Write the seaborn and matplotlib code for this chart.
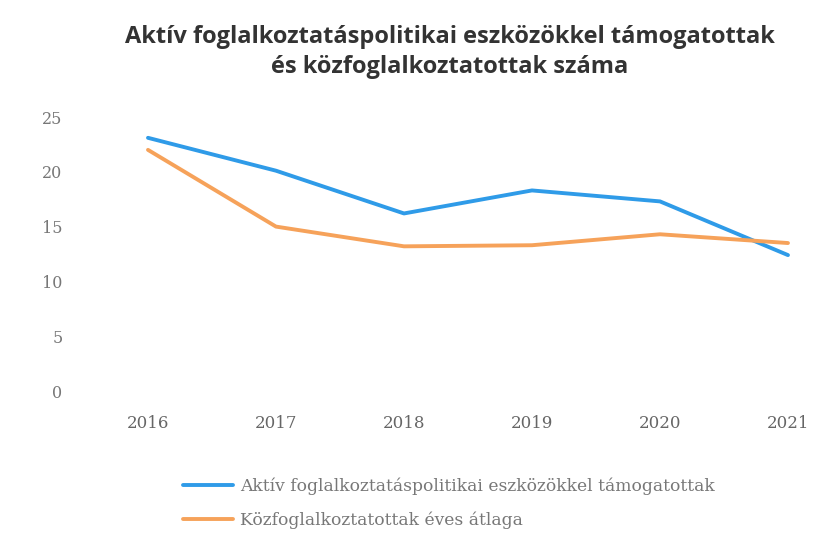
import matplotlib
matplotlib.use("Agg")
import matplotlib.pyplot as plt
import seaborn as sns
import pandas as pd
from matplotlib.lines import Line2D

years = ["2016", "2017", "2018", "2019", "2020", "2021"]
aktiv = [23.1, 20.1, 16.2, 18.3, 17.3, 12.4]
kozfog = [22.0, 15.0, 13.2, 13.3, 14.3, 13.5]
series_names = ["Aktív foglalkoztatáspolitikai eszközökkel támogatottak",
                "Közfoglalkoztatottak éves átlaga"]
yticks = [0, 5, 10, 15, 20, 25]
title = "Aktív foglalkoztatáspolitikai eszközökkel támogatottak\nés közfoglalkoztatottak száma"

df = pd.DataFrame({
    "year": list(range(len(years))) * 2,
    "value": aktiv + kozfog,
    "series": [series_names[0]] * len(years) + [series_names[1]] * len(years),
})

sns.set_theme(style="white")
fig = plt.figure(figsize=(8.14, 5.35), dpi=100)
W, H = 814, 535
ax = fig.add_axes([100 / W, (H - 391) / H, 700 / W, (391 - 117) / H])

palette = {series_names[0]: "#2f9be8", series_names[1]: "#f6a25a"}
sns.lineplot(data=df, x="year", y="value", hue="series", palette=palette,
             linewidth=2.8, ax=ax, legend=False, clip_on=False)

ax.set_xlim(-0.375, 5.094)
ax.set_ylim(0, 25)
ax.set_yticks(yticks)
ax.set_yticklabels([str(t) for t in yticks])
ax.set_xticks(range(len(years)))
ax.set_xticklabels(years)
ax.set_xlabel("")
ax.set_ylabel("")
for s in ax.spines.values():
    s.set_visible(False)
ax.tick_params(axis="y", length=0, pad=27, labelsize=11.5, labelcolor="#777777")
ax.tick_params(axis="x", length=0, pad=17, labelsize=12, labelcolor="#666666")
for lab in ax.get_yticklabels() + ax.get_xticklabels():
    lab.set_family("DejaVu Serif")

fig.text(450 / W, 1 - 52 / H, title, ha="center", va="center",
         fontsize=17, fontweight="bold", family="Open Sans", color="#333333",
         linespacing=1.35)

handles = [Line2D([0], [0], color=palette[n], lw=2.8) for n in series_names]
leg = fig.legend(handles, series_names, loc="upper left",
                 bbox_to_anchor=(168 / W, 1 - 462 / H), frameon=False,
                 handlelength=2.9, handletextpad=0.4, labelspacing=1.0,
                 prop={"family": "DejaVu Serif", "size": 12.3})
for t in leg.get_texts():
    t.set_color("#777777")

fig.savefig("out.png", dpi=100)
